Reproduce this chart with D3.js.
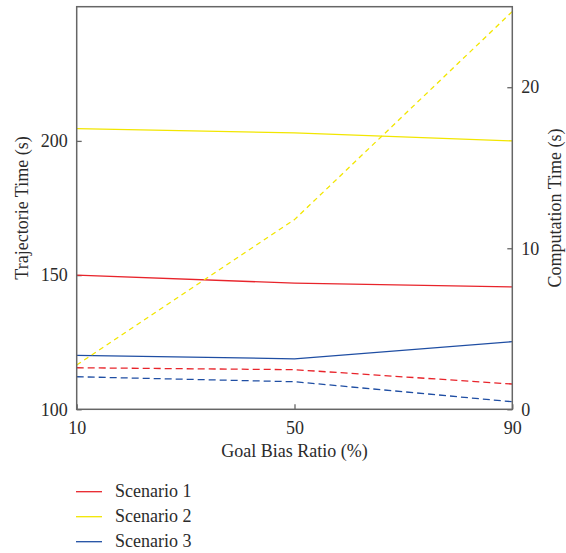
<!DOCTYPE html>
<html>
<head>
<meta charset="utf-8">
<script src="https://cdn.jsdelivr.net/npm/d3@7"></script>
<style>
  body { margin: 0; background: #fff; }
  text { font-family: "Liberation Serif", "DejaVu Serif", serif; fill: #2b2b2b; }
</style>
</head>
<body>
<svg id="chart" width="566" height="553"></svg>
<script>
// goal bias ratios (%)
var ratios = [10, 50, 90];
var scenarios = ["Scenario 1", "Scenario 2", "Scenario 3"];
var colors = ["#e8242b", "#f2e600", "#1f4ea3"];

// trajectory time (s), left axis, solid
var trajTime = [
  [150.0, 147.0, 145.6],
  [204.6, 203.0, 200.0],
  [120.1, 118.8, 125.2]
];
// computation time (s), right axis, dashed
var compTime = [
  [2.58, 2.46, 1.57],
  [2.75, 11.78, 24.7],
  [2.02, 1.71, 0.47]
];

var xTicks = [10, 50, 90];
var yLeftTicks = [100, 150, 200];
var yRightTicks = [0, 10, 20];

var margin = {left: 76.7, right: 53.7, top: 6.7, bottom: 143.7};
var width = 566, height = 553;
var innerW = width - margin.left - margin.right,
    innerH = height - margin.top - margin.bottom;

var svg = d3.select("#chart");
var g = svg.append("g")
           .attr("transform", "translate(" + margin.left + "," + margin.top + ")");

var x = d3.scaleLinear().domain([10, 90]).range([0, innerW]);
var yL = d3.scaleLinear().domain([100, 250]).range([innerH, 0]);
var yR = d3.scaleLinear().domain([0, 25]).range([innerH, 0]);

var axisColor = "#666";

// axes, ticks pointing inward
var xAxis = d3.axisBottom(x).tickValues(xTicks).tickSizeInner(-5).tickSizeOuter(0).tickPadding(12);
var yAxisL = d3.axisLeft(yL).tickValues(yLeftTicks).tickSizeInner(-5).tickSizeOuter(0).tickPadding(9);
var yAxisR = d3.axisRight(yR).tickValues(yRightTicks).tickSizeInner(-5).tickSizeOuter(0).tickPadding(9);

function styleAxis(sel) {
  sel.select(".domain").remove();
  sel.selectAll(".tick line").attr("stroke", axisColor).attr("stroke-width", 1.3);
  sel.selectAll(".tick text")
     .style("font-family", '"Liberation Serif", serif')
     .style("font-size", "18px")
     .attr("fill", "#2b2b2b");
}

g.append("g").attr("transform", "translate(0," + innerH + ")").call(xAxis).call(styleAxis);
g.append("g").call(yAxisL).call(styleAxis);
g.append("g").attr("transform", "translate(" + innerW + ",0)").call(yAxisR).call(styleAxis);

// lines
var lineL = d3.line().x(function(d, i) { return x(ratios[i]); }).y(function(d) { return yL(d); });
var lineR = d3.line().x(function(d, i) { return x(ratios[i]); }).y(function(d) { return yR(d); });

trajTime.forEach(function(s, i) {
  g.append("path")
   .attr("d", lineL(s))
   .attr("fill", "none")
   .attr("stroke", colors[i])
   .attr("stroke-width", 1.3);
});

compTime.forEach(function(s, i) {
  g.append("path")
   .attr("d", lineR(s))
   .attr("fill", "none")
   .attr("stroke", colors[i])
   .attr("stroke-width", 1.3)
   .attr("stroke-dasharray", i === 1 ? "5,4" : "7,4");
});

// frame
g.append("rect")
 .attr("width", innerW)
 .attr("height", innerH)
 .attr("fill", "none")
 .attr("stroke", axisColor)
 .attr("stroke-width", 1.5);

// axis titles
svg.append("text")
   .attr("x", margin.left + innerW / 2)
   .attr("y", 457)
   .attr("text-anchor", "middle")
   .style("font-size", "18px")
   .text("Goal Bias Ratio (%)");

svg.append("text")
   .attr("transform", "translate(28," + (margin.top + innerH / 2) + ") rotate(-90)")
   .attr("text-anchor", "middle")
   .style("font-size", "18px")
   .text("Trajectorie Time (s)");

svg.append("text")
   .attr("transform", "translate(561," + (margin.top + innerH / 2) + ") rotate(-90)")
   .attr("text-anchor", "middle")
   .style("font-size", "18px")
   .text("Computation Time (s)");

// legend
var legend = svg.append("g").attr("transform", "translate(76,491.7)");
scenarios.forEach(function(name, i) {
  var row = legend.append("g").attr("transform", "translate(0," + i * 25 + ")");
  row.append("line")
     .attr("x1", 0).attr("x2", 26)
     .attr("stroke", colors[i])
     .attr("stroke-width", 1.3);
  row.append("text")
     .attr("x", 39)
     .attr("dy", "0.32em")
     .style("font-size", "18px")
     .text(name);
});
</script>
</body>
</html>
